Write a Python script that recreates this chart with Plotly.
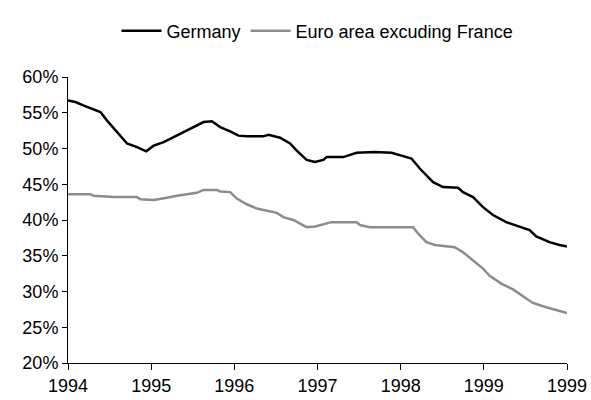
import plotly.graph_objects as go

# time position in tick intervals (0 = first "1994" tick, 6 = last "1999" tick)
tick_labels = ["1994", "1995", "1996", "1997", "1998", "1999", "1999"]

germany_t = [0, .09, .19, .29, .39, .47, .55, .63, .71, .83, .94, 1.03, 1.15, 1.27, 1.39, 1.51,
             1.63, 1.73, 1.83, 1.95, 2.05, 2.15, 2.35, 2.41, 2.55, 2.67, 2.75, 2.87, 2.97, 3.07,
             3.11, 3.31, 3.47, 3.69, 3.89, 4.01, 4.13, 4.23, 4.39, 4.51, 4.69, 4.75, 4.87, 4.99,
             5.11, 5.27, 5.43, 5.55, 5.63, 5.79, 5.91, 6.0]
germany = [56.7, 56.5, 56.0, 55.6, 55.1, 53.9, 52.8, 51.8, 50.7, 50.2, 49.6, 50.4, 50.9, 51.6, 52.3, 53.0,
           53.7, 53.8, 53.0, 52.4, 51.8, 51.7, 51.7, 51.9, 51.5, 50.7, 49.7, 48.4, 48.1, 48.4,
           48.8, 48.8, 49.4, 49.5, 49.4, 49.0, 48.6, 47.2, 45.3, 44.6, 44.5, 43.9, 43.2, 41.8,
           40.7, 39.7, 39.1, 38.6, 37.7, 36.9, 36.5, 36.3]

euro_t = [0, .27, .31, .51, .55, .83, .87, 1.03, 1.11, 1.19, 1.31, 1.43, 1.55, 1.63, 1.79, 1.83,
          1.95, 2.03, 2.15, 2.27, 2.39, 2.51, 2.59, 2.71, 2.79, 2.87, 2.97, 3.07, 3.17, 3.47,
          3.51, 3.63, 4.15, 4.21, 4.31, 4.41, 4.65, 4.75, 4.87, 4.99, 5.07, 5.21, 5.35, 5.47,
          5.59, 5.75, 5.91, 6.0]
euro_ex_france = [43.6, 43.6, 43.4, 43.3, 43.2, 43.2, 42.9, 42.8, 42.9, 43.1, 43.4, 43.6, 43.8, 44.2, 44.2, 44.0,
                  43.9, 43.0, 42.2, 41.6, 41.3, 41.0, 40.4, 40.0, 39.5, 39.0, 39.1, 39.4, 39.7, 39.7,
                  39.3, 39.0, 39.0, 38.1, 36.9, 36.5, 36.2, 35.5, 34.4, 33.2, 32.2, 31.1, 30.3, 29.3,
                  28.4, 27.8, 27.3, 27.0]

y_ticks = [20, 25, 30, 35, 40, 45, 50, 55, 60]

fig = go.Figure()
fig.add_trace(go.Scatter(x=germany_t, y=germany, mode="lines", name="Germany",
                         line=dict(color="black", width=2.5)))
fig.add_trace(go.Scatter(x=euro_t, y=euro_ex_france, mode="lines", name="Euro area excuding France",
                         line=dict(color="#8c8c8c", width=2.5)))

fig.update_layout(
    width=591, height=400, autosize=False,
    margin=dict(l=68, r=24, t=77, b=37),
    plot_bgcolor="white", paper_bgcolor="white",
    font=dict(family="Liberation Sans, Arial, sans-serif", size=18, color="black"),
    legend=dict(orientation="h", x=0.5, xanchor="center", y=1.225, yanchor="top",
                font=dict(size=18), itemwidth=40, tracegroupgap=0),
    showlegend=True,
)
fig.update_xaxes(range=[0, 6], tickvals=list(range(7)), ticktext=tick_labels, automargin=False,
                 showgrid=False, zeroline=False, showline=True, linecolor="black", linewidth=1,
                 ticks="outside", ticklen=6, tickcolor="black")
fig.update_yaxes(range=[20, 60], tickvals=y_ticks, ticktext=[f"{v}%" for v in y_ticks], automargin=False,
                 showgrid=False, zeroline=False, showline=True, linecolor="black", linewidth=1,
                 ticks="outside", ticklen=5, tickcolor="black")

# page body has a default 8px margin; drop it so the figure sits at the window's corner
fig.write_html("out.html", config={"displayModeBar": False},
               post_script="document.body.style.margin='0';")
